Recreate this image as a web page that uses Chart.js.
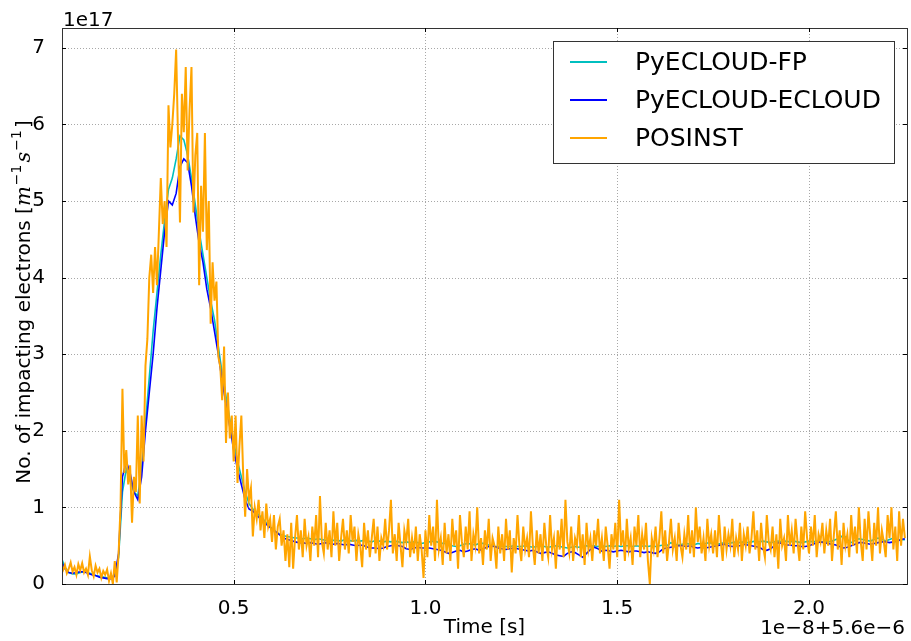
<!DOCTYPE html>
<html><head><meta charset="utf-8">
<script src="https://cdn.jsdelivr.net/npm/chart.js@4/dist/chart.umd.min.js"></script>
<style>html,body{margin:0;padding:0;background:#fff}#wrap{width:911px;height:641px;position:relative}</style>
</head><body><div id="wrap"><canvas id="c" width="911" height="641"></canvas></div>
<script>
// Time axis (units of 1e-8 s, offset 5.6e-6 s)
const timeStart = 0.05;
const smoothStep = 0.01;
const posinstStep = 0.005;
const xTicks = [0.5, 1.0, 1.5, 2.0];
const yTicks = [0, 1, 2, 3, 4, 5, 6, 7];
const seriesNames = ['PyECLOUD-FP', 'PyECLOUD-ECLOUD', 'POSINST'];

// values in units of 1e17 m^-1 s^-1
const fpValues = [
0.35,0.22,0.15,0.13,0.13,0.15,0.16,0.15,0.13,0.11,
0.10,0.09,0.08,0.08,0.12,0.35,1.2,1.5,1.35,1.2,
1.15,1.5,2.1,2.7,3.3,3.8,4.3,4.75,5.15,5.3,
5.55,5.85,5.8,5.6,5.3,4.95,4.6,4.3,4.0,3.7,
3.45,3.1,2.75,2.45,2.15,1.85,1.6,1.4,1.2,1.05,
0.98,0.93,0.88,0.83,0.77,0.72,0.68,0.65,0.63,0.62,
0.61,0.6,0.6,0.59,0.6,0.59,0.58,0.59,0.58,0.57,
0.58,0.57,0.57,0.56,0.58,0.57,0.56,0.57,0.56,0.57,
0.56,0.55,0.57,0.56,0.55,0.56,0.55,0.56,0.55,0.54,
0.55,0.54,0.55,0.54,0.53,0.54,0.55,0.56,0.55,0.53,
0.53,0.52,0.5,0.49,0.5,0.52,0.53,0.52,0.51,0.53,
0.53,0.52,0.5,0.49,0.49,0.5,0.49,0.49,0.5,0.49,
0.49,0.5,0.49,0.48,0.49,0.5,0.49,0.48,0.49,0.5,
0.49,0.48,0.47,0.48,0.49,0.48,0.49,0.5,0.49,0.5,
0.49,0.5,0.49,0.5,0.49,0.5,0.49,0.5,0.5,0.49,
0.5,0.49,0.5,0.49,0.5,0.49,0.5,0.51,0.5,0.54,
0.52,0.51,0.52,0.53,0.52,0.51,0.53,0.52,0.53,0.54,
0.53,0.52,0.53,0.54,0.53,0.54,0.55,0.54,0.55,0.54,
0.55,0.56,0.55,0.56,0.55,0.54,0.55,0.56,0.55,0.56,
0.55,0.56,0.55,0.54,0.55,0.56,0.55,0.56,0.55,0.55,
0.55,0.56,0.58,0.6,0.64,0.58,0.54,0.57,0.59,0.58,
0.57,0.56,0.58,0.6,0.58,0.56,0.58,0.6,0.57,0.58,
0.58];

const ecloudValues = [
0.3,0.2,0.15,0.14,0.15,0.16,0.16,0.14,0.12,0.11,
0.09,0.08,0.07,0.07,0.1,0.4,1.4,1.6,1.45,1.2,
1.1,1.4,2.0,2.5,3.0,3.6,4.1,4.6,5.0,4.95,
5.1,5.45,5.55,5.5,5.2,4.8,4.45,4.2,3.85,3.6,
3.3,3.0,2.65,2.35,2.05,1.75,1.5,1.3,1.1,0.98,
0.95,0.9,0.85,0.8,0.76,0.72,0.68,0.64,0.6,0.58,
0.57,0.55,0.54,0.54,0.53,0.54,0.53,0.52,0.53,0.54,
0.53,0.52,0.53,0.52,0.51,0.52,0.51,0.5,0.51,0.5,
0.48,0.47,0.47,0.46,0.47,0.49,0.5,0.51,0.5,0.49,
0.46,0.45,0.47,0.48,0.47,0.47,0.47,0.46,0.45,0.44,
0.42,0.4,0.41,0.43,0.44,0.42,0.43,0.45,0.46,0.44,
0.46,0.48,0.5,0.49,0.47,0.46,0.45,0.46,0.47,0.46,
0.45,0.44,0.43,0.44,0.42,0.4,0.41,0.42,0.4,0.38,
0.37,0.36,0.4,0.42,0.41,0.38,0.35,0.4,0.45,0.48,
0.46,0.43,0.44,0.43,0.42,0.43,0.44,0.43,0.42,0.43,
0.43,0.42,0.41,0.42,0.41,0.4,0.42,0.46,0.47,0.48,
0.49,0.5,0.5,0.49,0.5,0.48,0.47,0.48,0.47,0.48,
0.49,0.5,0.51,0.52,0.5,0.49,0.5,0.5,0.52,0.51,
0.5,0.49,0.48,0.45,0.44,0.46,0.5,0.54,0.53,0.51,
0.51,0.5,0.5,0.49,0.49,0.5,0.52,0.54,0.55,0.54,
0.53,0.52,0.51,0.49,0.47,0.48,0.5,0.52,0.54,0.54,
0.53,0.52,0.53,0.54,0.55,0.55,0.54,0.55,0.56,0.58,
0.59];

const posinstValues = [
0.22,0.18,0.25,0.14,0.2,0.28,0.16,0.22,0.12,0.26,
0.18,0.27,0.15,0.2,0.12,0.36,0.18,0.1,0.24,0.15,
0.2,0.08,0.17,0.12,0.19,0.04,0.14,0.0,0.3,0.02,
0.4,1.0,2.55,1.45,1.75,1.3,1.55,0.8,1.4,1.2,
2.2,1.05,2.2,1.6,2.85,3.2,4.0,4.3,3.8,4.4,
3.9,4.6,5.3,4.7,5.0,4.4,6.25,5.7,6.0,6.4,
6.98,5.8,4.72,6.4,5.9,6.75,5.4,6.2,6.75,4.85,
5.6,5.89,3.9,5.2,4.6,5.89,4.36,5.0,3.4,4.2,
3.7,3.95,2.97,2.84,2.4,3.1,1.84,2.5,1.9,2.2,
1.6,2.2,1.32,1.8,2.2,1.4,0.88,1.5,1.1,1.25,
0.62,1.0,0.85,1.1,0.7,0.95,0.6,1.05,0.75,0.85,
0.55,0.9,0.45,0.75,0.85,0.5,0.7,0.3,0.65,0.22,
0.8,0.2,0.6,0.9,0.45,0.7,0.35,0.85,0.5,0.62,
0.3,0.75,0.5,0.9,0.35,1.15,0.55,0.4,0.8,0.45,
0.7,0.35,0.95,0.5,0.8,0.3,0.6,0.85,0.45,0.7,
0.4,0.9,0.55,0.75,0.3,0.65,0.5,0.22,0.8,0.45,
0.7,0.35,0.6,0.85,0.4,0.75,0.3,0.6,0.5,0.85,
0.45,0.7,1.1,0.4,0.65,0.3,0.8,0.5,0.22,0.7,
0.55,0.85,0.35,0.6,0.4,0.75,0.3,0.65,0.45,0.08,
0.7,0.35,0.9,0.5,0.75,0.3,1.1,0.45,0.6,0.25,
0.8,0.4,0.65,0.3,0.85,0.5,0.7,0.2,0.9,0.55,
0.35,0.75,0.45,0.95,0.3,0.65,0.5,1.0,0.4,0.6,
0.25,0.7,0.45,0.85,0.3,0.6,0.5,0.2,0.75,0.4,
0.65,0.3,0.85,0.45,0.7,0.15,0.6,0.4,0.9,0.5,
0.3,0.75,0.45,0.6,0.35,0.95,0.5,0.25,0.7,0.4,
0.65,0.3,0.8,0.5,0.35,0.9,0.45,0.6,0.2,0.7,
0.45,0.85,0.35,1.1,0.55,0.4,0.75,0.3,0.6,0.5,
0.9,0.35,0.65,0.25,0.8,0.45,0.6,0.3,0.7,0.5,
0.85,0.4,0.6,0.3,0.75,0.5,0.2,0.65,0.45,0.8,
0.35,1.1,0.5,0.7,0.3,0.85,0.45,0.6,0.25,0.75,
0.5,0.9,0.35,0.65,0.45,0.8,0.3,0.0,0.6,0.45,
0.75,0.35,0.6,0.95,0.4,0.7,0.3,0.55,0.85,0.45,
0.6,0.3,0.8,0.5,0.35,0.65,0.45,0.9,0.4,0.7,
0.35,1.0,0.55,0.75,0.4,0.6,0.3,0.85,0.5,0.65,
0.4,0.7,0.35,0.9,0.55,0.3,0.75,0.45,0.65,0.5,
0.85,0.35,0.6,0.45,0.8,0.3,0.65,0.5,0.75,0.4,
0.6,0.95,0.45,0.7,0.3,0.8,0.5,0.35,0.9,0.55,
0.45,0.75,0.35,0.65,0.2,0.85,0.5,0.6,0.3,0.9,
0.5,0.7,0.4,0.85,0.55,0.3,0.75,0.45,0.95,0.6,
0.4,0.75,0.5,0.9,0.35,0.65,0.55,0.8,0.4,0.7,
0.5,0.85,0.3,0.65,0.95,0.45,0.7,0.25,0.8,0.5,
0.65,0.35,0.9,0.5,0.75,0.4,1.0,0.55,0.3,0.85,
0.45,0.95,0.6,0.3,0.8,0.5,1.0,0.4,0.7,0.55,
0.35,0.9,0.6,1.0,0.45,0.75,0.3,0.95,0.5,0.85,
0.6];

const colors = ['#00bfbf', '#0000ff', '#ffa500'];
const FONT = '"DejaVu Sans", "Liberation Sans", sans-serif';

function toPoints(vals, step) {
  return vals.map((v, i) => ({ x: +(timeStart + i * step).toFixed(4), y: v }));
}

const deco = {
  id: 'deco',
  beforeDatasetsDraw(chart) {
    const { ctx, chartArea: a, scales: { x, y } } = chart;
    ctx.save();
    ctx.strokeStyle = '#a8a8a8';
    ctx.lineWidth = 1;
    ctx.setLineDash([1, 2]);
    xTicks.forEach(v => {
      const p = Math.round(x.getPixelForValue(v)) + 0.5;
      ctx.beginPath(); ctx.moveTo(p, a.top); ctx.lineTo(p, a.bottom); ctx.stroke();
    });
    yTicks.forEach(v => {
      const p = Math.round(y.getPixelForValue(v)) + 0.5;
      ctx.beginPath(); ctx.moveTo(a.left, p); ctx.lineTo(a.right, p); ctx.stroke();
    });
    ctx.restore();
  },
  afterDraw(chart) {
    const { ctx, chartArea: a, scales: { x, y } } = chart;
    ctx.save();
    ctx.strokeStyle = '#333';
    ctx.lineWidth = 1;
    ctx.strokeRect(Math.round(a.left) + 0.5, Math.round(a.top) + 0.5, Math.round(a.right - a.left), Math.round(a.bottom - a.top));
    ctx.strokeStyle = '#000';
    xTicks.forEach(v => {
      const p = Math.round(x.getPixelForValue(v)) + 0.5;
      ctx.beginPath(); ctx.moveTo(p, a.bottom); ctx.lineTo(p, a.bottom - 4);
      ctx.moveTo(p, a.top); ctx.lineTo(p, a.top + 4); ctx.stroke();
    });
    yTicks.forEach(v => {
      const p = Math.round(y.getPixelForValue(v)) + 0.5;
      ctx.beginPath(); ctx.moveTo(a.left, p); ctx.lineTo(a.left + 4, p);
      ctx.moveTo(a.right, p); ctx.lineTo(a.right - 4, p); ctx.stroke();
    });
    ctx.fillStyle = '#000';
    ctx.font = '20px ' + FONT;
    ctx.textBaseline = 'alphabetic';
    ctx.textAlign = 'left';
    ctx.fillText('1e17', a.left + 1, 26);
    ctx.textAlign = 'right';
    ctx.fillText('1e\u22128+5.6e\u22126', a.right - 2, 634);
    ctx.textAlign = 'center';
    ctx.fillText('Time [s]', (a.left + a.right) / 2, 633);
    const parts = [
      { t: 'No. of impacting electrons [', f: '20px ' + FONT, dy: 0, gap: 0 },
      { t: 'm', f: 'italic 21px "DejaVu Serif", serif', dy: 0, gap: 1 },
      { t: '\u22121', f: '14px ' + FONT, dy: -9, gap: 2 },
      { t: 's', f: 'italic 21px "DejaVu Serif", serif', dy: 0, gap: 1 },
      { t: '\u22121', f: '14px ' + FONT, dy: -9, gap: 2 },
      { t: ']', f: '20px ' + FONT, dy: 0, gap: 0 }
    ];
    let total = 0;
    parts.forEach(p => { ctx.font = p.f; p.w = ctx.measureText(p.t).width + p.gap; total += p.w; });
    ctx.translate(30, 302);
    ctx.rotate(-Math.PI / 2);
    ctx.textAlign = 'left';
    let cx = -total / 2;
    parts.forEach(p => { ctx.font = p.f; ctx.fillText(p.t, cx, p.dy); cx += p.w; });
    ctx.setTransform(1, 0, 0, 1, 0, 0);
    const lx = a.right - 13, ly = a.top + 13;
    const bx = 553, bw = lx - bx, bh = 122;
    ctx.fillStyle = '#fff';
    ctx.fillRect(bx, ly, bw, bh);
    ctx.strokeStyle = '#333';
    ctx.lineWidth = 1;
    ctx.strokeRect(bx + 0.5, ly + 0.5, bw, bh);
    ctx.font = '25px ' + FONT;
    ctx.textAlign = 'left';
    ctx.textBaseline = 'middle';
    seriesNames.forEach((n, i) => {
      const yy = ly + 21 + i * 38;
      ctx.strokeStyle = colors[i];
      ctx.lineWidth = 2;
      ctx.beginPath(); ctx.moveTo(570, yy); ctx.lineTo(607, yy); ctx.stroke();
      ctx.fillStyle = '#000';
      ctx.fillText(n, 635, yy + 1);
    });
    ctx.restore();
  }
};

new Chart(document.getElementById('c'), {
  type: 'line',
  data: {
    datasets: [
      { label: seriesNames[0], data: toPoints(fpValues, smoothStep), borderColor: colors[0], borderWidth: 1.6, pointRadius: 0, tension: 0, order: 3 },
      { label: seriesNames[1], data: toPoints(ecloudValues, smoothStep), borderColor: colors[1], borderWidth: 1.6, pointRadius: 0, tension: 0, order: 2 },
      { label: seriesNames[2], data: toPoints(posinstValues, posinstStep), borderColor: colors[2], borderWidth: 2, pointRadius: 0, tension: 0, order: 1 }
    ]
  },
  options: {
    responsive: false,
    animation: false,
    devicePixelRatio: 1,
    layout: { padding: { top: 28, right: 4, left: 0, bottom: 0 } },
    plugins: { legend: { display: false }, tooltip: { enabled: false } },
    scales: {
      x: {
        type: 'linear', min: 0.0524, max: 2.2555,
        grid: { display: false }, border: { display: false },
        afterBuildTicks: s => { s.ticks = xTicks.map(v => ({ value: v })); },
        afterFit: s => { s.height = 57; },
        ticks: { autoSkip: false, maxRotation: 0, padding: 5, color: '#000', font: { size: 20, family: FONT }, callback: v => v.toFixed(1) }
      },
      y: {
        type: 'linear', min: 0, max: 7.26,
        grid: { display: false }, border: { display: false },
        afterBuildTicks: s => { s.ticks = yTicks.map(v => ({ value: v })); },
        afterFit: s => { s.width = 62; },
        ticks: { autoSkip: false, padding: 9, color: '#000', font: { size: 20, family: FONT }, callback: v => String(v) }
      }
    }
  },
  plugins: [deco]
});
</script>
</body></html>
